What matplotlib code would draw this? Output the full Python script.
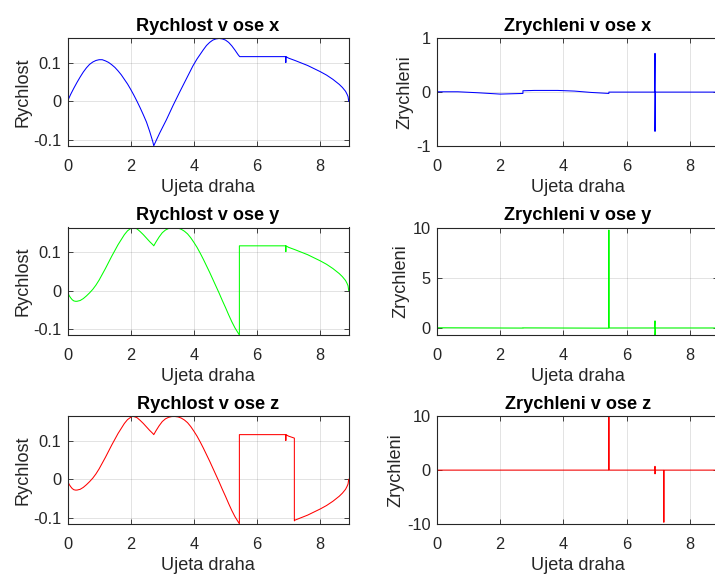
import matplotlib
matplotlib.use("Agg")
import matplotlib.pyplot as plt

plt.rcParams['font.family'] = ['Liberation Sans', 'DejaVu Sans']
plt.rcParams['axes.unicode_minus'] = False

# ---------------- data ----------------
xlabel_text = "Ujeta draha"
vel_titles = ["Rychlost v ose x", "Rychlost v ose y", "Rychlost v ose z"]
acc_titles = ["Zrychleni v ose x", "Zrychleni v ose y", "Zrychleni v ose z"]
vel_ylabel = "Rychlost"
acc_ylabel = "Zrychleni"
x_ticks = [0, 2, 4, 6, 8]

# velocity x
vx_s = [0, 0.05, 0.1, 0.2, 0.3, 0.4, 0.5, 0.6, 0.7, 0.8, 0.9, 1.0, 1.1, 1.2,
        1.3, 1.4, 1.5, 1.6, 1.7, 1.8, 1.9, 2.0, 2.1, 2.2, 2.3, 2.4, 2.5, 2.6,
        2.7, 2.73, 2.8, 2.92, 3.13, 3.34, 3.55, 3.76, 3.97, 4.1, 4.2, 4.3, 4.4,
        4.5, 4.6, 4.7, 4.8, 4.9, 5.0, 5.1, 5.2, 5.3, 5.4, 5.45,
        6.91, 6.91, 6.91, 7.0, 7.2, 7.4, 7.6, 7.8, 8.0, 8.2, 8.4, 8.6, 8.7,
        8.8, 8.85, 8.88, 8.9]
vx_v = [0, 0.009, 0.018, 0.034, 0.049, 0.063, 0.076, 0.087, 0.096, 0.102,
        0.106, 0.108, 0.108, 0.105, 0.101, 0.095, 0.088, 0.079, 0.069, 0.057,
        0.045, 0.031, 0.016, 0.0, -0.017, -0.035, -0.054, -0.078, -0.105,
        -0.1155, -0.103, -0.082, -0.048, -0.011, 0.024, 0.058, 0.092, 0.110,
        0.122, 0.134, 0.145, 0.153, 0.159, 0.162, 0.1632, 0.162, 0.159, 0.153,
        0.144, 0.133, 0.121, 0.116,
        0.116, 0.101, 0.116, 0.112, 0.106, 0.0995, 0.093, 0.085, 0.077, 0.068,
        0.057, 0.044, 0.036, 0.026, 0.018, 0.012, 0]

# velocity y
vy_s = [0, 0.02, 0.05, 0.1, 0.15, 0.2, 0.25, 0.3, 0.4, 0.5, 0.6, 0.7, 0.8,
        0.9, 1.0, 1.1, 1.2, 1.3, 1.4, 1.5, 1.6, 1.7, 1.8, 1.9, 2.0, 2.05, 2.1,
        2.2, 2.3, 2.4, 2.5, 2.6, 2.7, 2.73, 2.8, 2.9, 3.0, 3.1, 3.2, 3.3, 3.4,
        3.5, 3.6, 3.7, 3.8, 3.9, 4.0, 4.1, 4.2, 4.3, 4.4, 4.5, 4.6, 4.7, 4.8,
        4.9, 5.0, 5.1, 5.2, 5.3, 5.44, 5.44,
        6.91, 6.91, 6.91, 7.0, 7.2, 7.4, 7.6, 7.8, 8.0, 8.2, 8.4, 8.6, 8.7,
        8.8, 8.85, 8.88, 8.9]
vy_v = [0, -0.007, -0.013, -0.019, -0.024, -0.027, -0.028, -0.028, -0.026,
        -0.021, -0.014, -0.006, 0.003, 0.014, 0.027, 0.042, 0.057, 0.073,
        0.089, 0.104, 0.119, 0.132, 0.145, 0.155, 0.161, 0.1632, 0.163, 0.160,
        0.153, 0.145, 0.136, 0.127, 0.119, 0.116, 0.126, 0.139, 0.150, 0.157,
        0.161, 0.163, 0.1632, 0.162, 0.159, 0.154, 0.147, 0.137, 0.125, 0.112,
        0.097, 0.081, 0.064, 0.047, 0.029, 0.011, -0.007, -0.026, -0.044,
        -0.063, -0.081, -0.097, -0.1155, 0.116,
        0.116, 0.101, 0.116, 0.112, 0.106, 0.0995, 0.093, 0.085, 0.077, 0.068,
        0.057, 0.044, 0.036, 0.026, 0.018, 0.012, 0]

# velocity z
vz_s = [0, 0.02, 0.05, 0.1, 0.15, 0.2, 0.25, 0.3, 0.4, 0.5, 0.6, 0.7, 0.8,
        0.9, 1.0, 1.1, 1.2, 1.3, 1.4, 1.5, 1.6, 1.7, 1.8, 1.9, 2.0, 2.05, 2.1,
        2.2, 2.3, 2.4, 2.5, 2.6, 2.7, 2.73, 2.8, 2.9, 3.0, 3.1, 3.2, 3.3, 3.4,
        3.5, 3.6, 3.7, 3.8, 3.9, 4.0, 4.1, 4.2, 4.3, 4.4, 4.5, 4.6, 4.7, 4.8,
        4.9, 5.0, 5.1, 5.2, 5.3, 5.44, 5.44,
        6.91, 6.91, 6.91, 7.0, 7.18, 7.18, 7.2, 7.4, 7.6, 7.8, 8.0, 8.2, 8.4,
        8.6, 8.7, 8.8, 8.85, 8.88, 8.9]
vz_v = [0, -0.007, -0.013, -0.019, -0.024, -0.027, -0.028, -0.028, -0.026,
        -0.021, -0.014, -0.006, 0.003, 0.014, 0.027, 0.042, 0.057, 0.073,
        0.089, 0.104, 0.119, 0.132, 0.145, 0.155, 0.161, 0.1632, 0.163, 0.160,
        0.153, 0.145, 0.136, 0.127, 0.119, 0.116, 0.126, 0.139, 0.150, 0.157,
        0.161, 0.163, 0.1632, 0.162, 0.159, 0.154, 0.147, 0.137, 0.125, 0.112,
        0.097, 0.081, 0.064, 0.047, 0.029, 0.011, -0.007, -0.026, -0.044,
        -0.063, -0.081, -0.097, -0.1155, 0.116,
        0.116, 0.101, 0.116, 0.112, 0.107, -0.108, -0.106, -0.0995, -0.093,
        -0.085, -0.077, -0.068, -0.057, -0.044, -0.036, -0.026, -0.018,
        -0.012, 0]

# acceleration x
ax_s = [0, 0.66, 1.29, 2.0, 2.72, 2.72, 3.08, 3.82, 4.35, 4.87, 5.44, 5.44,
        6.89, 6.90, 6.90, 6.91, 8.9]
ax_v = [0.006, 0.006, -0.012, -0.037, -0.025, 0.025, 0.031, 0.031, 0.019,
        -0.006, -0.025, 0, 0, 0.72, -0.73, 0, 0]

# acceleration y
ay_s = [0, 2.72, 2.72, 5.43, 5.44, 5.45, 6.89, 6.90, 6.90, 6.91, 8.9]
ay_v = [0.07, 0.04, 0.06, 0.03, 9.75, 0.05, 0.05, 0.75, -0.75, 0.05, 0.05]

# acceleration z
az_s = [0, 5.43, 5.44, 5.45, 6.89, 6.90, 6.90, 6.91, 7.17, 7.18, 7.19, 8.9]
az_v = [0, 0, 9.85, 0, 0, 0.7, -0.7, 0, 0, -9.7, 0, 0]

vel_data = [(vx_s, vx_v), (vy_s, vy_v), (vz_s, vz_v)]
acc_data = [(ax_s, ax_v), (ay_s, ay_v), (az_s, az_v)]
colors = ["#0000ff", "#00ff00", "#ff0000"]
vel_yticks = [-0.1, 0, 0.1]
vel_yticklabels = ["-0.1", "0", "0.1"]
acc_yticks = [[-1, 0, 1], [0, 5, 10], [-10, 0, 10]]
acc_ylims = [(-1, 1), (-0.66, 10), (-10, 10)]
vel_ylim = (-0.1158, 0.1636)
x_lim = (0, 8.9)

# ---------------- layout ----------------
W, H = 715, 576
fig = plt.figure(figsize=(W / 100, H / 100), dpi=100)

left_x0 = 67.5
right_x0 = 437.0
ax_w = 281.2
row_tops = [38.3, 227.5, 416.3]
ax_h = 107.6

axcol = "#262626"
tick_fs = 11.8
lab_fs = 13.1


def style(ax):
    ax.grid(True, color="#262626", alpha=0.15, linewidth=0.6)
    ax.set_axisbelow(True)
    for sp in ax.spines.values():
        sp.set_color(axcol)
        sp.set_linewidth(0.8)
    ax.tick_params(direction="in", top=True, right=True, length=3.5,
                   width=0.6, color=axcol, labelcolor=axcol,
                   labelsize=tick_fs)
    ax.tick_params(axis="x", pad=9.5)
    ax.tick_params(axis="y", pad=4.5)
    ax.set_xlim(*x_lim)
    ax.set_xticks(x_ticks)
    ax.set_xticklabels([str(t) for t in x_ticks])
    ax.set_xlabel(xlabel_text, fontsize=lab_fs, color=axcol, labelpad=3.5)


for i in range(3):
    bottom = 1 - (row_tops[i] + ax_h) / H
    # velocity
    a = fig.add_axes([left_x0 / W, bottom, ax_w / W, ax_h / H])
    s, v = vel_data[i]
    a.plot(s, v, color=colors[i], linewidth=0.75)
    style(a)
    a.set_ylim(*vel_ylim)
    a.set_yticks(vel_yticks)
    a.set_yticklabels(vel_yticklabels)
    a.set_ylabel(vel_ylabel, fontsize=lab_fs, color=axcol, labelpad=1)
    a.set_title(vel_titles[i], fontsize=lab_fs, fontweight="bold",
                color="black", pad=5.5)
    # acceleration
    b = fig.add_axes([right_x0 / W, bottom, ax_w / W, ax_h / H])
    s, v = acc_data[i]
    b.plot(s, v, color=colors[i], linewidth=0.75)
    style(b)
    b.set_ylim(*acc_ylims[i])
    b.set_yticks(acc_yticks[i])
    b.set_yticklabels([str(t) for t in acc_yticks[i]])
    b.set_ylabel(acc_ylabel, fontsize=lab_fs, color=axcol, labelpad=2)
    b.set_title(acc_titles[i], fontsize=lab_fs, fontweight="bold",
                color="black", pad=5.5)

fig.savefig("out.png", dpi=100)
